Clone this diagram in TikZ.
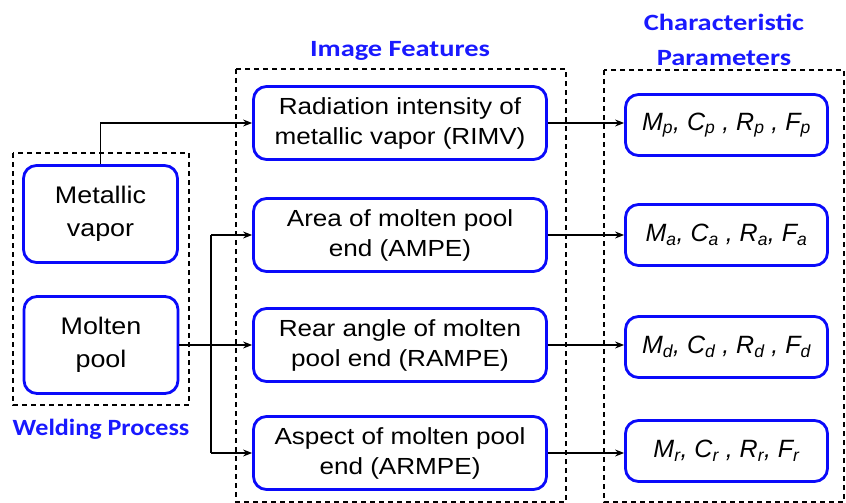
\documentclass[tikz,border=0pt]{standalone}
\usepackage{fontspec}
\setmainfont[FakeStretch=1.12]{Liberation Sans}
\newfontfamily\parfont{Liberation Sans}
\newfontfamily\titlefont[FakeStretch=1.22]{Carlito}
\newfontfamily\titlefontb[FakeStretch=1.12]{Carlito}
\usetikzlibrary{arrows.meta}
\definecolor{boxblue}{RGB}{10,10,250}
\definecolor{titleblue}{RGB}{25,25,255}
\begin{document}
\begin{tikzpicture}[x=1pt,y=-1pt,
  bluebox/.style={draw=boxblue,line width=2.8pt,rounded corners=13pt,align=center,inner sep=0pt},
  leftbox/.style={bluebox,minimum width=154pt,minimum height=97pt,font=\fontsize{24}{33}\selectfont},
  midbox/.style={bluebox,minimum width=293pt,minimum height=73pt,font=\fontsize{23.3}{30}\selectfont},
  parbox/.style={bluebox,minimum width=202pt,minimum height=61pt,font=\parfont\fontsize{25}{30}\selectfont\itshape},
  group/.style={draw=black,line width=1.3pt,dash pattern=on 5pt off 4pt},
  heading/.style={text=titleblue,font=\titlefont\bfseries\fontsize{23.3}{35}\selectfont,align=center},
  headingb/.style={text=titleblue,font=\titlefontb\bfseries\fontsize{23.3}{35}\selectfont,align=center},
  arr/.style={line width=1.2pt,-{Stealth[length=9pt,width=7pt]}},
  link/.style={line width=1.2pt}]
\useasboundingbox (0,0) rectangle (846,503);
\fill[white] (0,0) rectangle (846,503);
% dashed group frames
\draw[group] (13,153) rectangle (189,405);
\draw[group] (236,69) rectangle (566,502);
\draw[group] (604,70) rectangle (844,502);
% headings
\node[headingb] (hwp) at (101,429) {Welding Process};
\node[heading] (hif) at (400,51) {Image Features};
\node[heading] (hcp) at (724,40) {Characteristic\\Parameters};
% left boxes
\node[leftbox] (mv) at (100.5,214) {Metallic\\vapor};
\node[leftbox] (mp) at (101,345) {Molten\\pool};
% middle boxes
\node[midbox] (rimv) at (400,123) {Radiation intensity of\\metallic vapor (RIMV)};
\node[midbox] (ampe) at (400,235) {Area of molten pool\\end (AMPE)};
\node[midbox] (rampe) at (400,345) {Rear angle of molten\\pool end (RAMPE)};
\node[midbox] (armpe) at (400,453) {Aspect of molten pool\\end (ARMPE)};
% right boxes
\node[parbox] (pp) at (726.5,125) {M\textsubscript{p}, C\textsubscript{p} , R\textsubscript{p} , F\textsubscript{p}};
\node[parbox] (pa) at (726.5,235) {M\textsubscript{a}, C\textsubscript{a} , R\textsubscript{a}, F\textsubscript{a}};
\node[parbox] (pd) at (726.5,347) {M\textsubscript{d}, C\textsubscript{d} , R\textsubscript{d} , F\textsubscript{d}};
\node[parbox] (pr) at (726.5,451) {M\textsubscript{r}, C\textsubscript{r} , R\textsubscript{r}, F\textsubscript{r}};
% connectors
\coordinate (j) at (211,345);
\draw[arr] (mv.north) |- (rimv.west);
\draw[arr] (mp.east) -- (rampe.west);
\draw[link] (j |- ampe.west) -- (j |- armpe.west);
\draw[arr] (j |- ampe.west) -- (ampe.west);
\draw[arr] (j |- armpe.west) -- (armpe.west);
\draw[arr] (rimv.east) -- (rimv.east -| pp.west);
\draw[arr] (ampe.east) -- (ampe.east -| pa.west);
\draw[arr] (rampe.east) -- (rampe.east -| pd.west);
\draw[arr] (armpe.east) -- (armpe.east -| pr.west);
\end{tikzpicture}
\end{document}
